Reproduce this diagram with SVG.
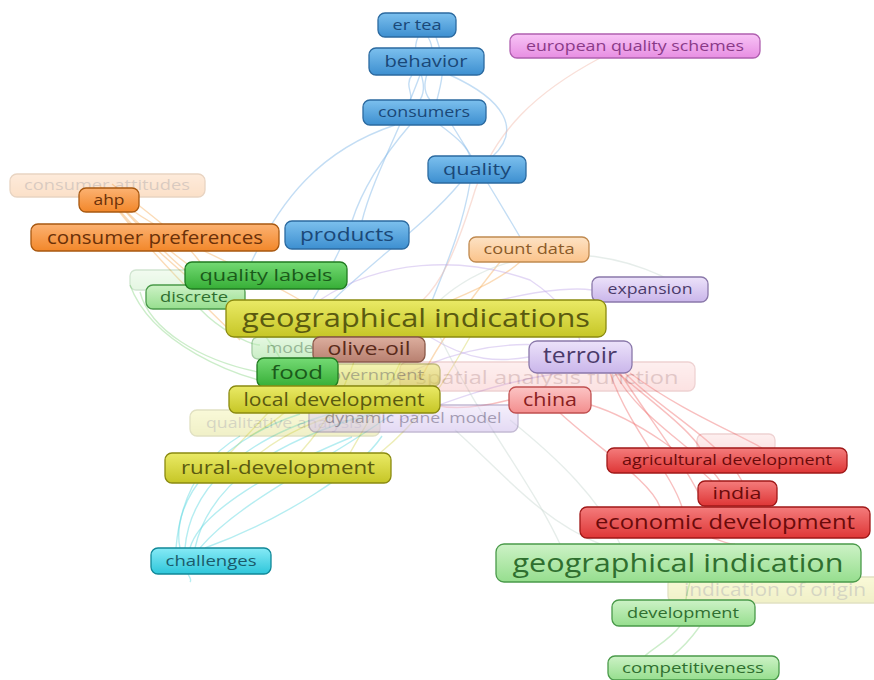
<svg xmlns="http://www.w3.org/2000/svg" width="874" height="680" viewBox="0 0 874 680">
<defs>
<linearGradient id="gBlue" x1="0" y1="0" x2="0" y2="1"><stop offset="0" stop-color="#7cc0ee"/><stop offset="1" stop-color="#3d8fd0"/></linearGradient>
<linearGradient id="gPink" x1="0" y1="0" x2="0" y2="1"><stop offset="0" stop-color="#f8c4f6"/><stop offset="1" stop-color="#e78ee2"/></linearGradient>
<linearGradient id="gOrange" x1="0" y1="0" x2="0" y2="1"><stop offset="0" stop-color="#fcb272"/><stop offset="1" stop-color="#f2872a"/></linearGradient>
<linearGradient id="gPeach" x1="0" y1="0" x2="0" y2="1"><stop offset="0" stop-color="#fde2c4"/><stop offset="1" stop-color="#fbc38a"/></linearGradient>
<linearGradient id="gGreen" x1="0" y1="0" x2="0" y2="1"><stop offset="0" stop-color="#74da74"/><stop offset="1" stop-color="#36ae36"/></linearGradient>
<linearGradient id="gLGreen" x1="0" y1="0" x2="0" y2="1"><stop offset="0" stop-color="#cdf2c6"/><stop offset="1" stop-color="#96de8e"/></linearGradient>
<linearGradient id="gYellow" x1="0" y1="0" x2="0" y2="1"><stop offset="0" stop-color="#eaea66"/><stop offset="1" stop-color="#c6c626"/></linearGradient>
<linearGradient id="gBrown" x1="0" y1="0" x2="0" y2="1"><stop offset="0" stop-color="#dcae9e"/><stop offset="1" stop-color="#b88070"/></linearGradient>
<linearGradient id="gPurple" x1="0" y1="0" x2="0" y2="1"><stop offset="0" stop-color="#ece2fa"/><stop offset="1" stop-color="#cab6ea"/></linearGradient>
<linearGradient id="gSalmon" x1="0" y1="0" x2="0" y2="1"><stop offset="0" stop-color="#fcc4c4"/><stop offset="1" stop-color="#f38e8e"/></linearGradient>
<linearGradient id="gRed" x1="0" y1="0" x2="0" y2="1"><stop offset="0" stop-color="#f47c7c"/><stop offset="1" stop-color="#de3636"/></linearGradient>
<linearGradient id="gCyan" x1="0" y1="0" x2="0" y2="1"><stop offset="0" stop-color="#86eaf6"/><stop offset="1" stop-color="#2ec6da"/></linearGradient>
</defs>
<style>
text{font-family:"Open Sans","DejaVu Sans",sans-serif;text-anchor:middle}
rect{stroke-width:1.3}
.blue rect{fill:url(#gBlue);stroke:#2b6aa0}.blue text{fill:#1a4878}
.pink rect{fill:url(#gPink);stroke:#b060b0}.pink text{fill:#8a3a88}
.orange rect{fill:url(#gOrange);stroke:#a85810}.orange text{fill:#6a3008}
.peach rect{fill:url(#gPeach);stroke:#c08a50}.peach text{fill:#8a5a28}
.green rect{fill:url(#gGreen);stroke:#207a20}.green text{fill:#1a5a1a}
.lgreen rect{fill:url(#gLGreen);stroke:#4a9a4a}.lgreen text{fill:#2f6f2f}
.yellow rect{fill:url(#gYellow);stroke:#8a8a10}.yellow text{fill:#5a5a10}
.brown rect{fill:url(#gBrown);stroke:#8a5848}.brown text{fill:#5a2a1a}
.purple rect{fill:url(#gPurple);stroke:#8a78aa}.purple text{fill:#4a3a6a}
.salmon rect{fill:url(#gSalmon);stroke:#c05050}.salmon text{fill:#8a2020}
.red rect{fill:url(#gRed);stroke:#a01818}.red text{fill:#6a0a0a}
.cyan rect{fill:url(#gCyan);stroke:#108898}.cyan text{fill:#1a5a6a}
.faint{opacity:0.25}
.semi{opacity:0.5}
#edges path{fill:none;stroke-width:1.4;opacity:0.45}
.eb{stroke:#7ab4e6}.eo{stroke:#f6b060}.ep{stroke:#f2b8a8}.eg{stroke:#8ed88a}.ey{stroke:#d8d860}.ec{stroke:#5ad6e0}.er{stroke:#f07070}.eu{stroke:#c0a8e8}.ex{stroke:#c8d8d0}
</style>
<rect width="874" height="680" fill="#ffffff"/>
<g id="edges">
<path class="eb" d="M418,37 C408,60 432,80 420,100"/>
<path class="eb" d="M428,37 C442,60 414,80 430,100"/>
<path class="eb" d="M436,37 C448,70 440,85 437,100"/>
<path class="eb" d="M412,75 C404,85 414,95 410,100"/>
<path class="eb" d="M450,75 C505,100 522,130 492,157"/>
<path class="eb" d="M440,125 C460,140 468,148 470,157"/>
<path class="eb" d="M410,125 C380,160 362,190 352,221"/>
<path class="eb" d="M395,125 C320,150 280,200 250,265"/>
<path class="eb" d="M420,75 C400,130 372,180 362,221"/>
<path class="eb" d="M470,183 C462,230 444,270 432,301"/>
<path class="eb" d="M340,249 C330,270 320,288 312,301"/>
<path class="eb" d="M460,183 C430,220 372,262 332,301"/>
<path class="eb" d="M452,125 C480,170 510,220 520,237"/>
<path class="ep" d="M600,58 C540,90 492,130 472,200 C456,250 442,282 422,301"/>
<path class="eo" d="M103,188 C130,230 190,282 250,326"/>
<path class="eo" d="M108,192 C150,240 200,292 272,330"/>
<path class="eo" d="M114,198 C160,250 232,300 300,330"/>
<path class="eo" d="M100,186 C138,240 198,300 240,340"/>
<path class="eo" d="M118,200 C170,240 230,260 300,300"/>
<path class="eo" d="M112,184 C150,215 180,235 200,262"/>
<path class="eo" d="M520,262 C500,280 470,292 450,301"/>
<path class="eo" d="M500,262 C470,300 440,340 420,380"/>
<path class="eg" d="M200,309 C220,330 250,345 260,345"/>
<path class="eg" d="M140,292 C150,330 200,360 258,372"/>
<path class="eg" d="M130,285 C150,340 230,380 300,388"/>
<path class="eg" d="M240,289 C250,320 270,340 280,358"/>
<path class="ey" d="M230,453 C262,420 300,380 330,337"/>
<path class="ey" d="M300,453 C330,420 350,380 362,337"/>
<path class="ey" d="M350,453 C380,400 400,370 410,337"/>
<path class="ey" d="M260,453 C290,430 320,420 340,413"/>
<path class="ey" d="M250,436 C280,420 300,400 310,385"/>
<path class="ey" d="M380,453 C420,420 440,390 470,337"/>
<path class="ec" d="M185,548 C190,490 240,440 330,414"/>
<path class="ec" d="M195,548 C210,480 280,440 370,414"/>
<path class="ec" d="M200,548 C240,500 330,460 392,414"/>
<path class="ec" d="M180,548 C170,500 220,440 300,414"/>
<path class="ec" d="M205,548 C282,520 360,470 382,436"/>
<path class="ec" d="M190,548 C200,512 272,470 352,437"/>
<path class="ec" d="M176,548 C180,500 200,460 240,436"/>
<path class="ec" d="M188,574 C190,578 192,580 190,582"/>
<path class="eu" d="M430,337 C470,362 500,362 529,357"/>
<path class="eu" d="M400,420 C450,400 500,382 560,373"/>
<path class="eu" d="M500,300 C550,288 580,288 592,290"/>
<path class="eu" d="M340,420 C380,380 460,340 540,345"/>
<path class="eu" d="M320,300 C380,260 460,255 530,280 C560,300 575,320 580,341"/>
<path class="er" d="M615,373 C640,420 700,450 720,481"/>
<path class="er" d="M620,373 C650,420 690,470 705,507"/>
<path class="er" d="M625,373 C660,410 720,440 742,481"/>
<path class="er" d="M610,373 C630,430 670,470 682,507"/>
<path class="er" d="M630,373 C680,410 730,430 762,448"/>
<path class="er" d="M618,373 C650,400 690,430 700,448"/>
<path class="er" d="M591,405 C640,420 690,460 712,481"/>
<path class="er" d="M509,400 C470,410 440,410 420,400"/>
<path class="er" d="M560,413 C600,450 650,480 660,507"/>
<path class="er" d="M712,538 C720,540 730,545 735,544"/>
<path class="ex" d="M440,337 C480,420 530,480 560,544"/>
<path class="ex" d="M455,430 C500,470 540,520 600,544"/>
<path class="ex" d="M510,420 C560,460 600,500 620,544"/>
<path class="ex" d="M440,300 C520,230 640,250 700,300"/>
<path class="eg" d="M680,626 C670,640 650,650 645,656"/>
<path class="eg" d="M700,626 C690,640 680,650 672,656"/>
<path class="eg" d="M690,582 C688,590 686,596 686,600"/>
</g>
<g id="n-consumer-attitudes" class="orange faint"><rect x="10" y="174" width="195" height="23" rx="7"/><text x="107" y="190" font-size="15" textLength="166" lengthAdjust="spacingAndGlyphs">consumer attitudes</text></g>
<g id="n-faint-green" class="lgreen faint"><rect x="130" y="270" width="60" height="20" rx="6"/></g>
<g id="n-faint-red" class="salmon faint"><rect x="697" y="434" width="78" height="18" rx="6"/></g>
<g id="n-spatial" class="salmon faint"><rect x="400" y="362" width="295" height="29" rx="7"/><text x="547" y="384" font-size="18" textLength="263" lengthAdjust="spacingAndGlyphs">spatial analysis function</text></g>
<g id="n-qualitative" class="yellow faint"><rect x="190" y="410" width="190" height="26" rx="7"/><text x="284" y="428" font-size="14" textLength="156" lengthAdjust="spacingAndGlyphs">qualitative analysis</text></g>
<g id="n-dynamic" class="purple semi"><rect x="309" y="405" width="209" height="27" rx="7"/><text x="413" y="423" font-size="15" textLength="177" lengthAdjust="spacingAndGlyphs">dynamic panel model</text></g>
<g id="n-indication-origin" class="yellow faint"><rect x="668" y="577" width="215" height="26" rx="7"/><text x="775" y="596" font-size="18" textLength="182" lengthAdjust="spacingAndGlyphs">indication of origin</text></g>
<g id="n-model" class="lgreen semi"><rect x="252" y="337" width="80" height="22" rx="6"/><text x="292" y="353" font-size="15" textLength="52" lengthAdjust="spacingAndGlyphs">model</text></g>
<g id="n-er-tea" class="blue"><rect x="378" y="13" width="78" height="24" rx="7"/><text x="417" y="30" font-size="14" textLength="49" lengthAdjust="spacingAndGlyphs">er tea</text></g>
<g id="n-behavior" class="blue"><rect x="369" y="48" width="115" height="27" rx="7"/><text x="426" y="67" font-size="17" textLength="83" lengthAdjust="spacingAndGlyphs">behavior</text></g>
<g id="n-european" class="pink"><rect x="510" y="34" width="250" height="24" rx="7"/><text x="635" y="51" font-size="14" textLength="218" lengthAdjust="spacingAndGlyphs">european quality schemes</text></g>
<g id="n-consumers" class="blue"><rect x="363" y="100" width="123" height="25" rx="7"/><text x="424" y="117" font-size="14" textLength="92" lengthAdjust="spacingAndGlyphs">consumers</text></g>
<g id="n-quality" class="blue"><rect x="428" y="156" width="98" height="27" rx="7"/><text x="477" y="175" font-size="17" textLength="68" lengthAdjust="spacingAndGlyphs">quality</text></g>
<g id="n-ahp" class="orange"><rect x="79" y="188" width="60" height="24" rx="7"/><text x="109" y="205" font-size="15" textLength="31" lengthAdjust="spacingAndGlyphs">ahp</text></g>
<g id="n-consumer-preferences" class="orange"><rect x="31" y="224" width="248" height="27" rx="7"/><text x="155" y="244" font-size="19" textLength="216" lengthAdjust="spacingAndGlyphs">consumer preferences</text></g>
<g id="n-products" class="blue"><rect x="285" y="221" width="124" height="28" rx="7"/><text x="347" y="241" font-size="18" textLength="94" lengthAdjust="spacingAndGlyphs">products</text></g>
<g id="n-count-data" class="peach"><rect x="469" y="237" width="120" height="25" rx="7"/><text x="529" y="254" font-size="14" textLength="91" lengthAdjust="spacingAndGlyphs">count data</text></g>
<g id="n-discrete" class="lgreen"><rect x="146" y="285" width="99" height="24" rx="7"/><text x="194" y="302" font-size="15" textLength="68" lengthAdjust="spacingAndGlyphs">discrete</text></g>
<g id="n-quality-labels" class="green"><rect x="185" y="262" width="162" height="27" rx="7"/><text x="266" y="281" font-size="17" textLength="133" lengthAdjust="spacingAndGlyphs">quality labels</text></g>
<g id="n-expansion" class="purple"><rect x="592" y="277" width="116" height="25" rx="7"/><text x="650" y="294" font-size="14" textLength="85" lengthAdjust="spacingAndGlyphs">expansion</text></g>
<g id="n-geographical-indications" class="yellow"><rect x="226" y="300" width="380" height="37" rx="8"/><text x="416" y="327" font-size="26" textLength="348" lengthAdjust="spacingAndGlyphs">geographical indications</text></g>
<g id="n-olive-oil" class="brown"><rect x="313" y="337" width="112" height="25" rx="7"/><text x="369" y="355" font-size="18" textLength="83" lengthAdjust="spacingAndGlyphs">olive-oil</text></g>
<g id="n-terroir" class="purple"><rect x="529" y="341" width="103" height="32" rx="8"/><text x="580" y="363" font-size="21" textLength="74" lengthAdjust="spacingAndGlyphs">terroir</text></g>
<g id="n-government" class="yellow semi"><rect x="306" y="364" width="134" height="22" rx="6"/><text x="372" y="380" font-size="15" textLength="104" lengthAdjust="spacingAndGlyphs">government</text></g>
<g id="n-food" class="green"><rect x="257" y="358" width="81" height="29" rx="7"/><text x="297" y="379" font-size="19" textLength="52" lengthAdjust="spacingAndGlyphs">food</text></g>
<g id="n-local-development" class="yellow"><rect x="229" y="386" width="211" height="27" rx="7"/><text x="334" y="406" font-size="18" textLength="181" lengthAdjust="spacingAndGlyphs">local development</text></g>
<g id="n-china" class="salmon"><rect x="509" y="387" width="82" height="26" rx="7"/><text x="550" y="406" font-size="18" textLength="54" lengthAdjust="spacingAndGlyphs">china</text></g>
<g id="n-agricultural-development" class="red"><rect x="607" y="448" width="240" height="25" rx="7"/><text x="727" y="465" font-size="14" textLength="210" lengthAdjust="spacingAndGlyphs">agricultural development</text></g>
<g id="n-rural-development" class="yellow"><rect x="165" y="453" width="226" height="30" rx="7"/><text x="278" y="474" font-size="18" textLength="194" lengthAdjust="spacingAndGlyphs">rural-development</text></g>
<g id="n-india" class="red"><rect x="698" y="481" width="79" height="25" rx="7"/><text x="737" y="499" font-size="17" textLength="49" lengthAdjust="spacingAndGlyphs">india</text></g>
<g id="n-economic-development" class="red"><rect x="580" y="507" width="290" height="31" rx="7"/><text x="725" y="529" font-size="20" textLength="260" lengthAdjust="spacingAndGlyphs">economic development</text></g>
<g id="n-challenges" class="cyan"><rect x="151" y="548" width="120" height="26" rx="7"/><text x="211" y="566" font-size="14" textLength="91" lengthAdjust="spacingAndGlyphs">challenges</text></g>
<g id="n-geographical-indication" class="lgreen"><rect x="496" y="544" width="365" height="38" rx="8"/><text x="678" y="572" font-size="26" textLength="331" lengthAdjust="spacingAndGlyphs">geographical indication</text></g>
<g id="n-development" class="lgreen"><rect x="612" y="600" width="143" height="26" rx="7"/><text x="683" y="618" font-size="14" textLength="112" lengthAdjust="spacingAndGlyphs">development</text></g>
<g id="n-competitiveness" class="lgreen"><rect x="608" y="656" width="171" height="24" rx="7"/><text x="693" y="673" font-size="14" textLength="142" lengthAdjust="spacingAndGlyphs">competitiveness</text></g>
</svg>
